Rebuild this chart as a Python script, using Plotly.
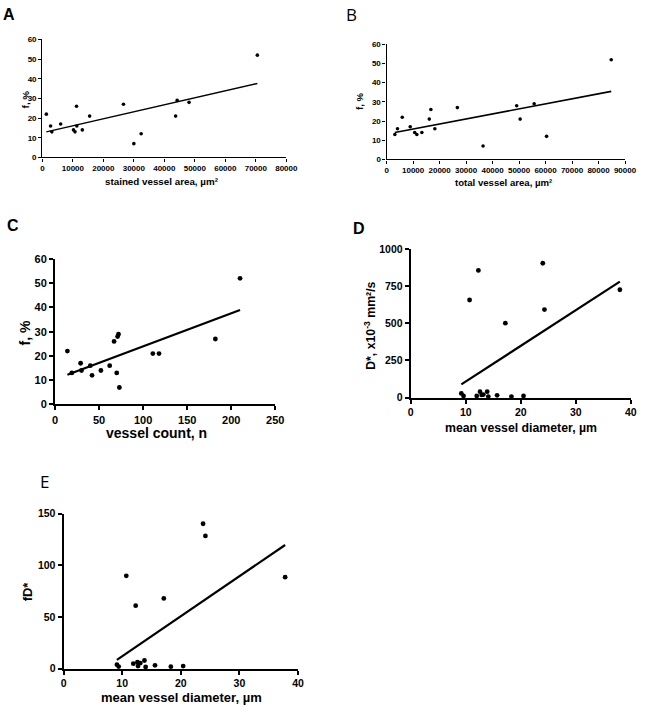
import numpy as np
import plotly.graph_objects as go

# ---- data ----
f_pct = [22, 16, 13, 17, 14, 13, 26, 16, 14, 21, 27, 7, 12, 21, 29, 28, 52]
stained_area = [1300, 2700, 3100, 6000, 10200, 10700, 11200, 11300, 13100, 15500,
                26600, 30000, 32400, 43700, 44200, 48100, 70500]

f_pct_b = [13, 16, 22, 17, 14, 13, 14, 21, 26, 16, 27, 7, 28, 21, 29, 12, 52]
total_area = [3100, 4100, 5900, 8900, 10600, 11400, 13300, 16100, 16700, 18200,
              26700, 36400, 49100, 50400, 55700, 60400, 84800]

f_pct_c = [22, 13, 17, 14, 16, 12, 14, 16, 26, 13, 28, 29, 7, 21, 21, 27, 52]
vessel_count = [14, 19, 29, 30, 40, 42, 52, 62, 67, 70, 71, 72, 73, 111, 118, 182, 210]

diam = [9.2, 9.6, 10.7, 12.0, 12.3, 12.6, 12.9, 13.9, 14.1, 15.7, 17.2, 18.3,
        20.5, 24.0, 24.3, 38.0, 13.2]
dstar = [28, 11, 656, 11, 855, 40, 18, 40, 7, 15, 500, 7, 11, 903, 592, 725, 20]

diam_e = [9.1, 9.4, 10.7, 11.9, 12.3, 12.6, 12.7, 13.1, 13.8, 14.0, 15.6, 17.1,
          18.3, 20.4, 23.8, 24.2, 37.8]
fdstar = [3.8, 2.0, 89.8, 4.8, 60.9, 6.3, 2.5, 5.4, 7.9, 1.6, 3.2, 67.9,
          1.9, 2.5, 140.2, 128.4, 88.5]

panels = [
    dict(x=stained_area, y=f_pct, xt="stained vessel area, µm²", yt="f, %",
         xr=[0, 80000], xd=10000, yr=[0, 60], yd=10,
         xdom=[40.3/650, 290/650], ydom=[1-154/712, 1-34/712],
         tick=8, title=9.8, lw=1.4, ms=3.6, fitw=1.4, tl=3,
         xtpos=(163, 179), ytpos=(22.5, 95)),
    dict(x=total_area, y=f_pct_b, xt="total vessel area, µm²", yt="f, %",
         xr=[0, 90000], xd=10000, yr=[0, 60], yd=10,
         xdom=[392.7/650, 636.7/650], ydom=[1-156/712, 1-39/712],
         tick=8, title=9.6, lw=1.4, ms=3.6, fitw=1.6, tl=3,
         xtpos=(512, 180), ytpos=(365, 97)),
    dict(x=vessel_count, y=f_pct_c, xt="vessel count, n", yt="f, %",
         xr=[0, 250], xd=50, yr=[0, 60], yd=10,
         xdom=[53.3/650, 278.7/650], ydom=[1-405.3/712, 1-257.3/712],
         tick=11, title=14, lw=2, ms=4.8, fitw=2.2, tl=4,
         xtpos=(157, 434), ytpos=(22.5, 332)),
    dict(x=diam, y=dstar, xt="mean vessel diameter, µm",
         yt="D*, x10<sup>-3</sup> mm²/s",
         xr=[0, 40], xd=10, yr=[0, 1000], yd=250,
         xdom=[417.3/650, 642.7/650], ydom=[1-398.3/712, 1-247/712],
         tick=10.5, title=12.3, lw=2, ms=4.8, fitw=2.2, tl=4,
         xtpos=(530, 429), ytpos=(375, 325)),
    dict(x=diam_e, y=fdstar, xt="mean vessel diameter, µm", yt="fD*",
         xr=[0, 40], xd=10, yr=[0, 150], yd=50,
         xdom=[62/650, 302/650], ydom=[1-674/712, 1-516.3/712],
         tick=10.5, title=13, lw=2, ms=4.8, fitw=2.2, tl=4,
         xtpos=(183, 703), ytpos=(26, 595)),
]

letters = [("A", 6, 9, True), ("B", 357, 9, False), ("C", 10, 223, True),
           ("D", 364, 226, True), ("E", 42, 484, False)]

FONT = "Liberation Sans"
fig = go.Figure()
annotations = []
layout = dict(width=650, height=712, margin=dict(l=0, r=0, t=0, b=0),
              paper_bgcolor="white", plot_bgcolor="white", showlegend=False)

for i, p in enumerate(panels, start=1):
    sx = "" if i == 1 else str(i)
    xa, ya = "x" + sx, "y" + sx
    x = np.array(p["x"], dtype=float)
    y = np.array(p["y"], dtype=float)
    fig.add_trace(go.Scatter(x=x, y=y, mode="markers", xaxis=xa, yaxis=ya,
                             marker=dict(color="black", size=p["ms"]),
                             cliponaxis=False))
    k, b = np.polyfit(x, y, 1)
    xs = np.array([x.min(), x.max()])
    fig.add_trace(go.Scatter(x=xs, y=k * xs + b, mode="lines", xaxis=xa, yaxis=ya,
                             line=dict(color="black", width=p["fitw"]),
                             cliponaxis=False))
    common = dict(showgrid=False, zeroline=False, showline=True, linecolor="black",
                  linewidth=p["lw"], ticks="outside", ticklen=p["tl"],
                  tickwidth=p["lw"], tickcolor="black",
                  tickfont=dict(family=FONT, size=p["tick"], color="black",
                                weight="bold"),
                  fixedrange=True)
    layout["xaxis" + sx] = dict(domain=p["xdom"], range=p["xr"], dtick=p["xd"],
                                tick0=0, anchor=ya, tickformat="d", **common)
    layout["yaxis" + sx] = dict(domain=p["ydom"], range=p["yr"], dtick=p["yd"],
                                tick0=0, anchor=xa, tickformat="d", **common)
    annotations.append(dict(text=p["xt"], xref="paper", yref="paper",
                            x=p["xtpos"][0] / 650, y=1 - p["xtpos"][1] / 712,
                            xanchor="center", yanchor="middle", showarrow=False,
                            font=dict(family=FONT, size=p["title"], color="black",
                                      weight="bold")))
    annotations.append(dict(text=p["yt"], xref="paper", yref="paper",
                            x=p["ytpos"][0] / 650, y=1 - p["ytpos"][1] / 712,
                            xanchor="center", yanchor="middle", showarrow=False,
                            textangle=-90,
                            font=dict(family=FONT, size=p["title"], color="black",
                                      weight="bold")))

for t, px, py, bold in letters:
    annotations.append(dict(text=t, xref="paper", yref="paper",
                            x=px / 650, y=1 - py / 712, xanchor="center",
                            yanchor="middle", showarrow=False,
                            font=dict(family=FONT if bold else "Open Sans",
                                      size=16 if bold else 17, color="black",
                                      weight="bold" if bold else "normal")))

layout["annotations"] = annotations
fig.update_layout(**layout)

pin_js = (
    "document.documentElement.style.margin='0';"
    "document.documentElement.style.overflow='hidden';"
    "document.body.style.margin='0';"
    "document.body.style.overflow='hidden';"
    "var d=document.getElementById('{plot_id}');"
    "d.style.position='fixed';d.style.left='0px';d.style.top='0px';"
)
fig.write_html("out.html", config={"displayModeBar": False}, post_script=pin_js)
